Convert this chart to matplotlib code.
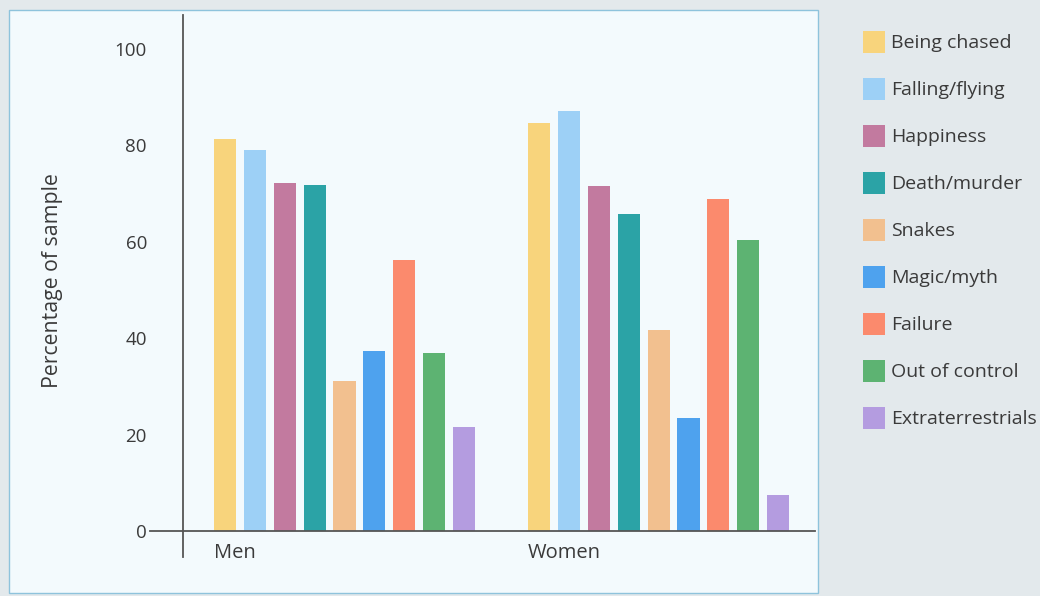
import matplotlib
matplotlib.use("Agg")
import matplotlib.pyplot as plt
from matplotlib.patches import Rectangle, Patch

plt.rcParams['font.family'] = ['Open Sans', 'DejaVu Sans']

groups = ["Men", "Women"]
themes = ["Being chased", "Falling/flying", "Happiness", "Death/murder", "Snakes",
          "Magic/myth", "Failure", "Out of control", "Extraterrestrials"]
men = [81.3, 79.0, 72.1, 71.8, 31.2, 37.4, 56.2, 37.0, 21.5]
women = [84.6, 87.0, 71.6, 65.8, 41.6, 23.4, 68.9, 60.4, 7.5]
colors = ["#f8d47c", "#9dd0f6", "#c27a9f", "#2ba3a6", "#f2c08f",
          "#4ea2ee", "#fb8a6d", "#5db372", "#b49ce0"]

text_col = "#3a3a3a"
W, H = 1040, 596

fig = plt.figure(figsize=(W / 100, H / 100), dpi=100)
fig.patch.set_facecolor("#e3e9ec")

# light panel behind the plot
fig.patches.append(Rectangle((9 / W, 1 - 593 / H), (818 - 9) / W, (593 - 10) / H,
                             transform=fig.transFigure, facecolor="#f3fafd",
                             edgecolor="#8ec3dc", linewidth=1.0, zorder=-5))

ax = fig.add_axes([183 / W, 1 - 557 / H, (815 - 183) / W, (557 - 15) / H])
ax.set_facecolor("none")

width = 0.74
offsets = [0, 10.5]
for g, vals in zip(offsets, [men, women]):
    for i, (v, c) in enumerate(zip(vals, colors)):
        ax.bar(g + i, v, width=width, color=c, linewidth=0)

ax.set_xlim(-1.40, 19.73)
ax.set_ylim(-5.4, 107)

ax.axhline(0, xmin=-0.053, xmax=1.0, color="#555555", linewidth=1.3, clip_on=False)

for s in ["top", "right", "bottom"]:
    ax.spines[s].set_visible(False)
ax.spines["left"].set_color("#555555")
ax.spines["left"].set_linewidth(1.3)

ax.set_yticks([0, 20, 40, 60, 80, 100])
ax.tick_params(axis="y", length=0, pad=26, labelsize=13.5, labelcolor=text_col)
ax.set_xticks([])

for g, name in zip(offsets, groups):
    ax.text(g - width / 2, -4.6, name, ha="left", va="center",
            fontsize=14.5, color=text_col, clip_on=False)

fig.text(53 / W, 1 - 281 / H, "Percentage of sample", rotation=90,
         ha="center", va="center", fontsize=15.3, color=text_col)

# legend: 22px swatches, 47px row pitch
fs = 14
fs_px = fs * 100 / 72
handles = [Patch(facecolor=c, edgecolor="none", label=t) for c, t in zip(colors, themes)]
fig.legend(handles=handles, loc="upper left", bbox_to_anchor=(863 / W, 1 - 31 / H),
           frameon=False, fontsize=fs, handlelength=22 / fs_px,
           handleheight=(22 / fs_px - 0.245) / 0.65,
           handletextpad=6 / fs_px, labelspacing=25 / fs_px, borderpad=0,
           borderaxespad=0, labelcolor=text_col)

fig.savefig("out.png", dpi=100, facecolor=fig.get_facecolor())
